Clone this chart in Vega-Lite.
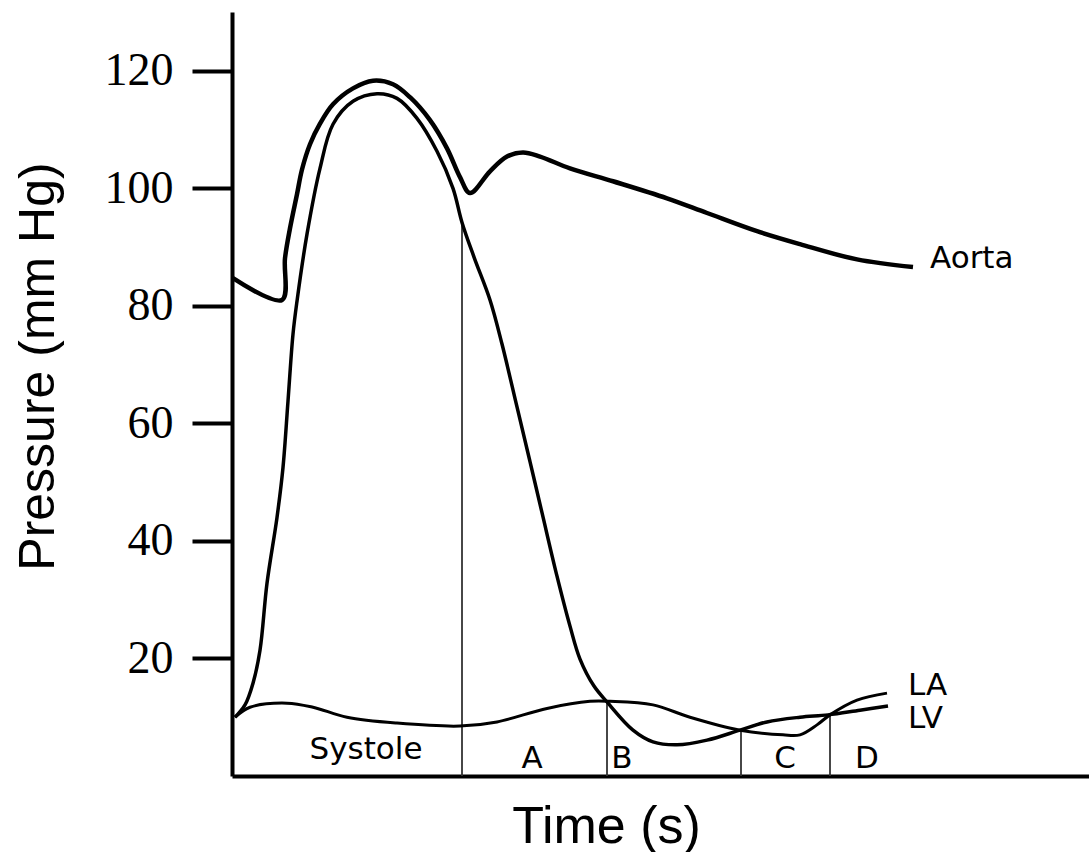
{
  "$schema": "https://vega.github.io/schema/vega-lite/v6.json",
  "width": 857,
  "height": 764,
  "autosize": {"type": "none"},
  "padding": {"left": 232, "top": 12, "right": 0, "bottom": 76},
  "background": "white",
  "config": {
    "view": {"stroke": null},
    "axis": {"domainColor": "black", "domainWidth": 4, "tickColor": "black", "grid": false}
  },
  "datasets": {
    "curves": [
      {"series": "Aorta", "t": 0.001, "p": 84.7},
      {"series": "Aorta", "t": 0.050, "p": 81.0},
      {"series": "Aorta", "t": 0.053, "p": 88.1},
      {"series": "Aorta", "t": 0.058, "p": 93.2},
      {"series": "Aorta", "t": 0.065, "p": 99.0},
      {"series": "Aorta", "t": 0.070, "p": 103.2},
      {"series": "Aorta", "t": 0.078, "p": 107.5},
      {"series": "Aorta", "t": 0.088, "p": 111.0},
      {"series": "Aorta", "t": 0.101, "p": 114.3},
      {"series": "Aorta", "t": 0.121, "p": 117.0},
      {"series": "Aorta", "t": 0.141, "p": 118.3},
      {"series": "Aorta", "t": 0.161, "p": 117.7},
      {"series": "Aorta", "t": 0.178, "p": 115.5},
      {"series": "Aorta", "t": 0.198, "p": 111.6},
      {"series": "Aorta", "t": 0.215, "p": 106.8},
      {"series": "Aorta", "t": 0.228, "p": 101.9},
      {"series": "Aorta", "t": 0.238, "p": 99.2},
      {"series": "Aorta", "t": 0.258, "p": 102.9},
      {"series": "Aorta", "t": 0.275, "p": 105.4},
      {"series": "Aorta", "t": 0.291, "p": 106.1},
      {"series": "Aorta", "t": 0.308, "p": 105.4},
      {"series": "Aorta", "t": 0.338, "p": 103.4},
      {"series": "Aorta", "t": 0.381, "p": 101.2},
      {"series": "Aorta", "t": 0.435, "p": 98.3},
      {"series": "Aorta", "t": 0.475, "p": 95.8},
      {"series": "Aorta", "t": 0.525, "p": 92.7},
      {"series": "Aorta", "t": 0.568, "p": 90.5},
      {"series": "Aorta", "t": 0.625, "p": 87.9},
      {"series": "Aorta", "t": 0.681, "p": 86.6},
      {"series": "LV", "t": 0.003, "p": 10.0},
      {"series": "LV", "t": 0.013, "p": 12.1},
      {"series": "LV", "t": 0.021, "p": 15.8},
      {"series": "LV", "t": 0.028, "p": 21.4},
      {"series": "LV", "t": 0.035, "p": 32.8},
      {"series": "LV", "t": 0.045, "p": 44.0},
      {"series": "LV", "t": 0.051, "p": 52.5},
      {"series": "LV", "t": 0.056, "p": 63.8},
      {"series": "LV", "t": 0.061, "p": 75.2},
      {"series": "LV", "t": 0.065, "p": 80.8},
      {"series": "LV", "t": 0.075, "p": 92.2},
      {"series": "LV", "t": 0.088, "p": 103.4},
      {"series": "LV", "t": 0.101, "p": 110.9},
      {"series": "LV", "t": 0.121, "p": 114.8},
      {"series": "LV", "t": 0.145, "p": 116.1},
      {"series": "LV", "t": 0.165, "p": 115.3},
      {"series": "LV", "t": 0.185, "p": 111.9},
      {"series": "LV", "t": 0.205, "p": 106.3},
      {"series": "LV", "t": 0.221, "p": 100.0},
      {"series": "LV", "t": 0.230, "p": 94.2},
      {"series": "LV", "t": 0.242, "p": 88.3},
      {"series": "LV", "t": 0.258, "p": 81.0},
      {"series": "LV", "t": 0.270, "p": 73.5},
      {"series": "LV", "t": 0.285, "p": 62.8},
      {"series": "LV", "t": 0.298, "p": 53.5},
      {"series": "LV", "t": 0.310, "p": 44.8},
      {"series": "LV", "t": 0.325, "p": 34.0},
      {"series": "LV", "t": 0.338, "p": 25.5},
      {"series": "LV", "t": 0.348, "p": 19.9},
      {"series": "LV", "t": 0.362, "p": 15.3},
      {"series": "LV", "t": 0.375, "p": 12.6},
      {"series": "LV", "t": 0.401, "p": 7.8},
      {"series": "LV", "t": 0.421, "p": 5.8},
      {"series": "LV", "t": 0.445, "p": 5.3},
      {"series": "LV", "t": 0.475, "p": 6.1},
      {"series": "LV", "t": 0.508, "p": 7.8},
      {"series": "LV", "t": 0.535, "p": 9.2},
      {"series": "LV", "t": 0.568, "p": 10.0},
      {"series": "LV", "t": 0.596, "p": 10.4},
      {"series": "LV", "t": 0.628, "p": 11.2},
      {"series": "LV", "t": 0.656, "p": 11.9},
      {"series": "LA", "t": 0.003, "p": 10.0},
      {"series": "LA", "t": 0.018, "p": 11.7},
      {"series": "LA", "t": 0.055, "p": 12.4},
      {"series": "LA", "t": 0.081, "p": 11.7},
      {"series": "LA", "t": 0.115, "p": 10.0},
      {"series": "LA", "t": 0.165, "p": 9.0},
      {"series": "LA", "t": 0.228, "p": 8.5},
      {"series": "LA", "t": 0.265, "p": 9.2},
      {"series": "LA", "t": 0.315, "p": 11.5},
      {"series": "LA", "t": 0.358, "p": 12.7},
      {"series": "LA", "t": 0.378, "p": 12.7},
      {"series": "LA", "t": 0.421, "p": 12.1},
      {"series": "LA", "t": 0.458, "p": 10.0},
      {"series": "LA", "t": 0.508, "p": 7.8},
      {"series": "LA", "t": 0.551, "p": 7.0},
      {"series": "LA", "t": 0.568, "p": 7.0},
      {"series": "LA", "t": 0.585, "p": 8.7},
      {"series": "LA", "t": 0.598, "p": 10.4},
      {"series": "LA", "t": 0.625, "p": 12.9},
      {"series": "LA", "t": 0.655, "p": 14.1}
    ],
    "dividers": [
      {"t": 0.230, "p": 93.9},
      {"t": 0.375, "p": 12.6},
      {"t": 0.509, "p": 7.8},
      {"t": 0.598, "p": 10.4}
    ],
    "phases": [
      {"label": "Systole", "t": 0.134, "p": 2.9},
      {"label": "A", "t": 0.300, "p": 1.4},
      {"label": "B", "t": 0.390, "p": 1.4},
      {"label": "C", "t": 0.553, "p": 1.4},
      {"label": "D", "t": 0.635, "p": 1.4}
    ],
    "names": [
      {"label": "Aorta", "t": 0.698, "p": 86.4},
      {"label": "LA", "t": 0.676, "p": 13.75},
      {"label": "LV", "t": 0.676, "p": 8.15}
    ]
  },
  "encoding": {
    "x": {
      "field": "t", "type": "quantitative",
      "scale": {"domain": [0, 0.857], "nice": false, "zero": false},
      "axis": {
        "title": "Time (s)", "ticks": false, "labels": false,
        "titleFont": "Liberation Sans", "titleFontSize": 52, "titleFontWeight": "normal", "titleColor": "black",
        "titleX": 374, "titleY": 66, "titleAlign": "center", "titleBaseline": "alphabetic"
      }
    },
    "y": {
      "field": "p", "type": "quantitative",
      "scale": {"domain": [0, 130], "nice": false, "zero": true},
      "axis": {
        "title": "Pressure (mm Hg)", "values": [20, 40, 60, 80, 100, 120],
        "tickSize": 40, "tickWidth": 4,
        "labelFont": "Liberation Serif", "labelFontSize": 46, "labelColor": "black", "labelPadding": 19,
        "titleFont": "Liberation Sans", "titleFontSize": 50, "titleFontWeight": "normal", "titleColor": "black",
        "titleX": -179, "titleY": 354, "titleAlign": "center", "titleBaseline": "alphabetic", "titleAngle": 270
      }
    }
  },
  "layer": [
    {
      "data": {"name": "dividers"},
      "mark": {"type": "rule", "color": "#333333", "strokeWidth": 1.8},
      "encoding": {"y2": {"datum": 0}}
    },
    {
      "data": {"name": "curves"},
      "transform": [{"filter": "datum.series === 'LA'"}],
      "mark": {"type": "line", "color": "black", "strokeWidth": 3, "interpolate": "catmull-rom"}
    },
    {
      "data": {"name": "curves"},
      "transform": [{"filter": "datum.series === 'LV'"}],
      "mark": {"type": "line", "color": "black", "strokeWidth": 3.5, "interpolate": "catmull-rom"}
    },
    {
      "data": {"name": "curves"},
      "transform": [{"filter": "datum.series === 'Aorta'"}],
      "mark": {"type": "line", "color": "black", "strokeWidth": 4.5, "interpolate": "catmull-rom"}
    },
    {
      "data": {"name": "phases"},
      "mark": {"type": "text", "font": "DejaVu Sans", "fontSize": 31, "color": "black", "align": "center", "baseline": "alphabetic"},
      "encoding": {"text": {"field": "label"}}
    },
    {
      "data": {"name": "names"},
      "mark": {"type": "text", "font": "DejaVu Sans", "fontSize": 31, "color": "black", "align": "left", "baseline": "alphabetic"},
      "encoding": {"text": {"field": "label"}}
    }
  ]
}
